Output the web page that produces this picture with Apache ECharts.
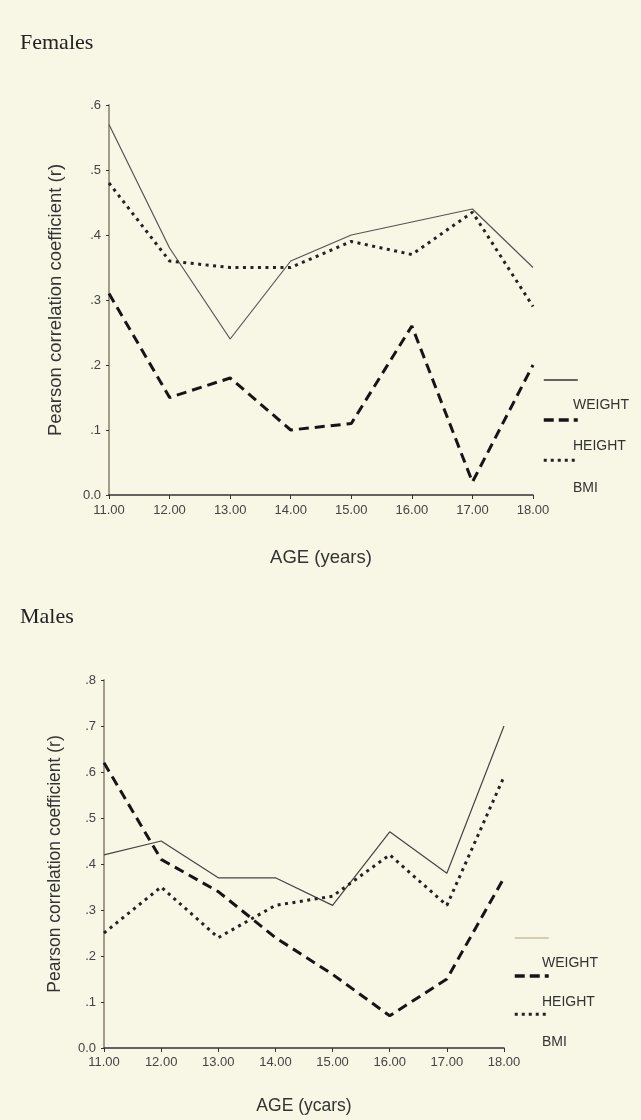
<!DOCTYPE html>
<html>
<head>
<meta charset="utf-8">
<script src="https://cdn.jsdelivr.net/npm/echarts@6/dist/echarts.min.js"></script>
<style>
html,body{margin:0;padding:0;background:#f8f6e4;}
#f{position:absolute;left:0;top:0;width:641px;height:590px;}
#m{position:absolute;left:0;top:590px;width:641px;height:530px;}
</style>
</head>
<body>
<div id="f"></div>
<div id="m"></div>
<script>
// ---- data ----
const ages = ['11.00','12.00','13.00','14.00','15.00','16.00','17.00','18.00'];
const seriesNames = ['WEIGHT','HEIGHT','BMI'];
const femaleWeight = [0.57,0.38,0.24,0.36,0.40,0.42,0.44,0.35];
const femaleHeight = [0.31,0.15,0.18,0.10,0.11,0.26,0.02,0.20];
const femaleBMI    = [0.48,0.36,0.35,0.35,0.39,0.37,0.435,0.29];
const maleWeight = [0.42,0.45,0.37,0.37,0.31,0.47,0.38,0.70];
const maleHeight = [0.62,0.41,0.34,0.24,0.16,0.07,0.15,0.37];
const maleBMI    = [0.25,0.35,0.24,0.31,0.33,0.42,0.31,0.59];
const femaleTitle = 'Females';
const maleTitle = 'Males';
const yName = 'Pearson correlation coefficient (r)';
const xNameF = 'AGE (years)';
const xNameM = 'AGE (ycars)';

function yFmt(v){ return v === 0 ? '0.0' : '.' + Math.round(v*10); }

function build(cfg){
  const styles = [
    {type:'solid', width:1.2, color:cfg.solidColor},
    {type:[10,6], width:3, color:'#151515'},
    {type:[3,4.5], width:3, color:'#222'}
  ];
  const legStyles = [
    {type:'solid', width:1.3, color:cfg.legSolid},
    {type:[10,5], width:3.5, color:'#151515'},
    {type:[3,4], width:3, color:'#222'}
  ];
  const data = [cfg.w, cfg.h, cfg.b];
  return {
    backgroundColor:'#f8f6e4',
    animation:false,
    title:{text:cfg.title,left:15,top:cfg.titleTop,
      textStyle:{fontFamily:'Liberation Serif',fontSize:22,fontWeight:'normal',color:'#222'}},
    grid:{left:cfg.left,top:cfg.top,width:cfg.width,height:cfg.height,containLabel:false},
    legend:[
      {orient:'vertical',left:cfg.legLeft,top:cfg.legTop,itemWidth:34,itemHeight:14,
        itemGap:cfg.legGap,selectedMode:false,
        itemStyle:{opacity:0},
        formatter:function(){return '';},
        textStyle:{fontSize:8},
        data:seriesNames.map((n,i)=>({name:n,lineStyle:legStyles[i]}))},
      {orient:'vertical',left:cfg.labLeft,top:cfg.labTop,itemWidth:1,itemHeight:14,
        itemGap:cfg.legGap,selectedMode:false,icon:'rect',
        itemStyle:{opacity:0},
        textStyle:{fontFamily:'Liberation Sans',fontSize:14,color:'#333'},
        data:seriesNames.slice()}
    ],
    xAxis:{type:'category',data:ages,boundaryGap:false,
      name:cfg.xName,nameLocation:'middle',nameGap:cfg.xNameGap,
      nameTextStyle:{fontFamily:'Liberation Sans',fontSize:cfg.nameSize,color:'#333'},
      axisLine:{lineStyle:{color:'#333',width:1.5}},
      axisTick:{alignWithLabel:true,length:4,lineStyle:{color:'#333'}},
      axisLabel:{margin:cfg.xLabMargin,fontFamily:'Liberation Sans',fontSize:13,color:'#444'}},
    yAxis:{type:'value',min:0,max:cfg.ymax,interval:0.1,
      name:yName,nameLocation:'middle',nameGap:cfg.yNameGap,
      nameTextStyle:{fontFamily:'Liberation Sans',fontSize:cfg.nameSize,color:'#333'},
      axisLine:{show:true,lineStyle:{color:'#a39c8a',width:2}},
      axisTick:{show:true,length:3,lineStyle:{color:'#333'}},
      splitLine:{show:false},
      axisLabel:{margin:8,fontFamily:'Liberation Sans',fontSize:13,color:'#444',formatter:yFmt}},
    series:seriesNames.map((n,i)=>({name:n,type:'line',data:data[i],symbol:'none',
      itemStyle:{color:styles[i].color},lineStyle:styles[i]}))
  };
}

const fc = echarts.init(document.getElementById('f'));
fc.setOption(build({title:femaleTitle,titleTop:27,left:109,top:105,width:424,height:390,ymax:0.6,
  w:femaleWeight,h:femaleHeight,b:femaleBMI,solidColor:'#555',legSolid:'#333',
  legLeft:537,legTop:368,labLeft:562,labTop:393,legGap:27.5,
  xName:xNameF,xNameGap:53,nameSize:18.5,yNameGap:44,xLabMargin:9}));

const mc = echarts.init(document.getElementById('m'));
mc.setOption(build({title:maleTitle,titleTop:11,left:104,top:90,width:400,height:368.5,ymax:0.8,
  w:maleWeight,h:maleHeight,b:maleBMI,solidColor:'#444',legSolid:'#c8bfa5',
  legLeft:508,legTop:336,labLeft:531,labTop:361,legGap:25.5,
  xName:xNameM,xNameGap:49,nameSize:17.5,yNameGap:40,xLabMargin:8}));
</script>
</body>
</html>
